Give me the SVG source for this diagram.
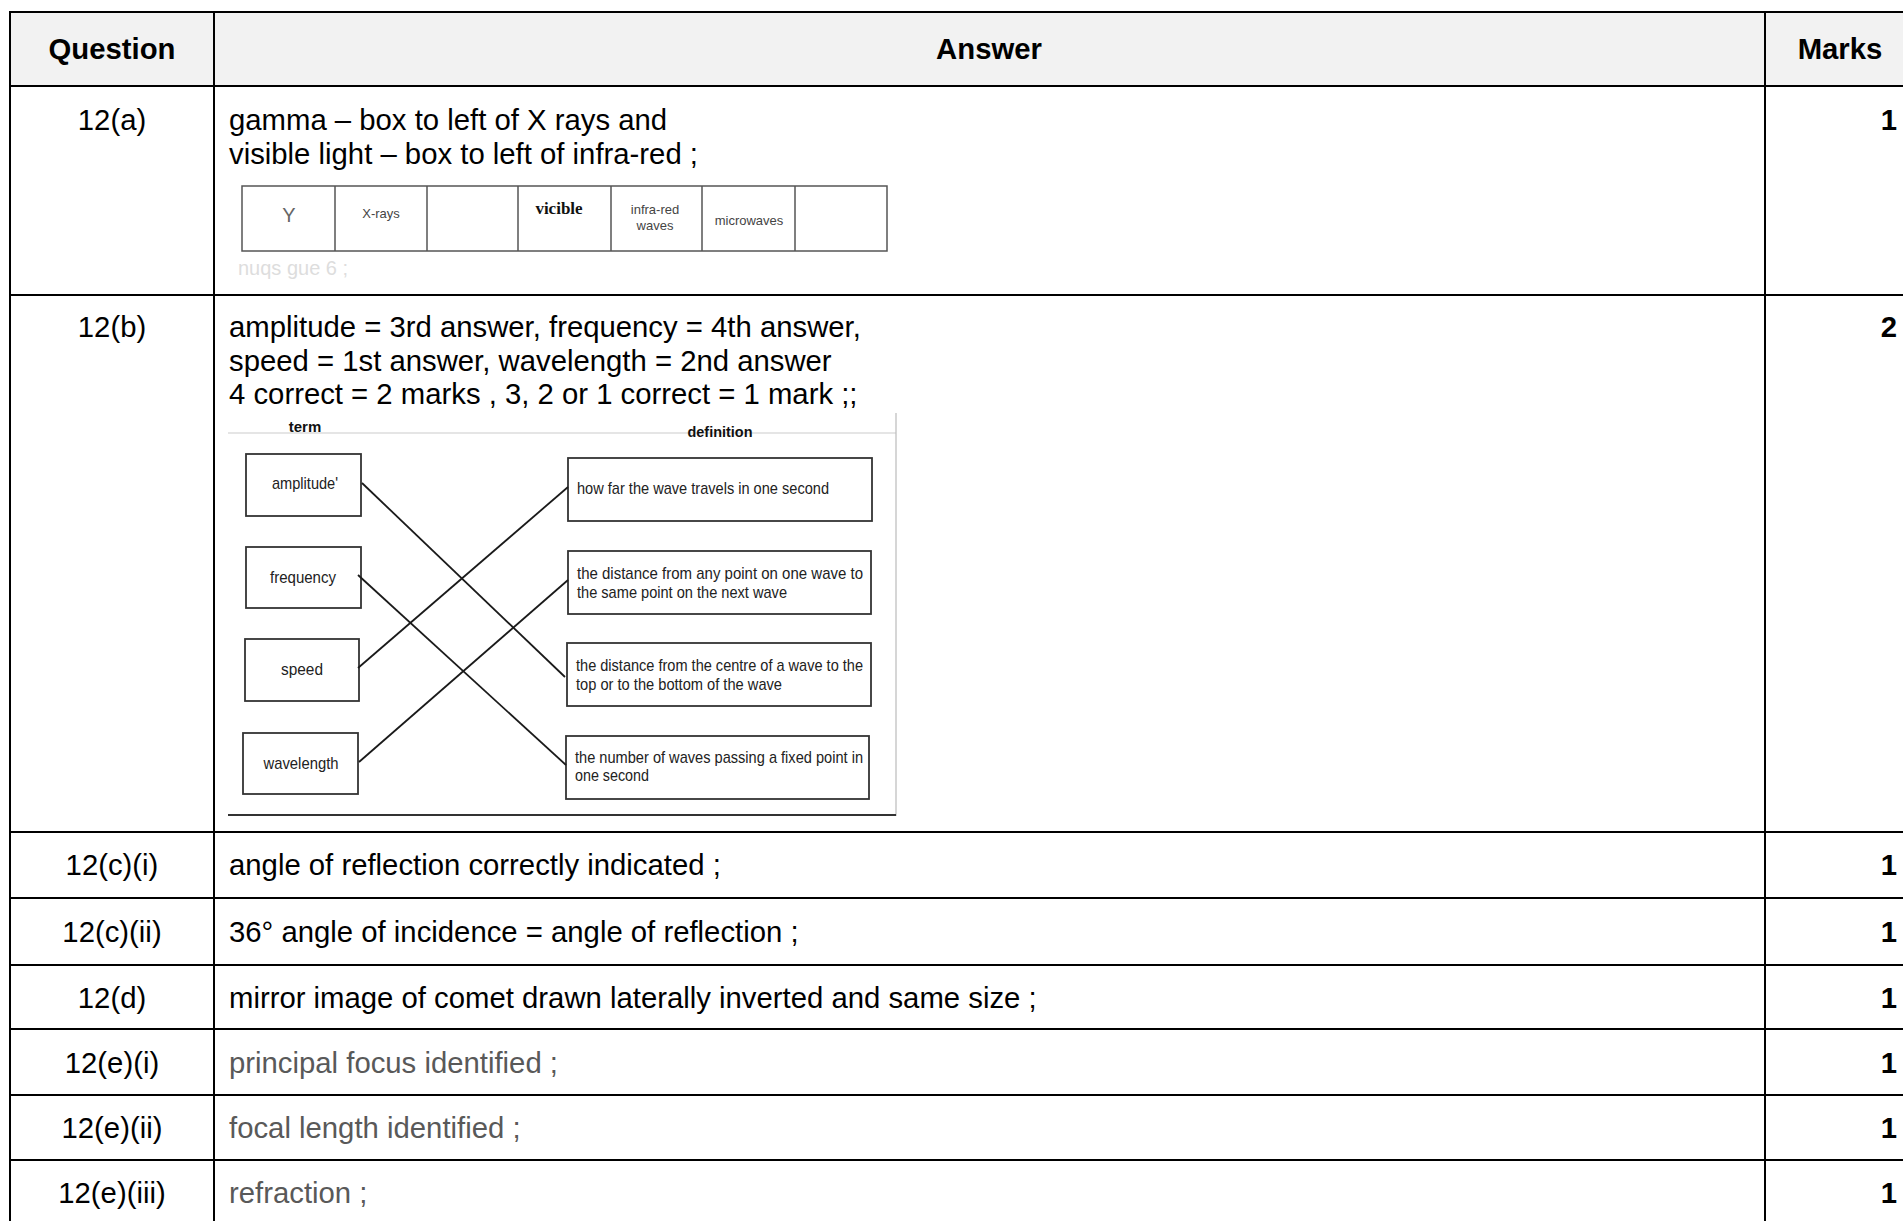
<svg xmlns="http://www.w3.org/2000/svg" width="1903" height="1221" viewBox="0 0 1903 1221">
<style>
.t{font-family:"Liberation Sans",Arial,sans-serif;font-size:29.3px;fill:#000}
.b{font-weight:bold}
.q{text-anchor:middle}
.m{text-anchor:end;font-weight:bold}
.g{fill:#595959}
.grid{stroke:#000;stroke-width:2;fill:none}
.s{font-family:"Liberation Sans",Arial,sans-serif;font-size:17px;fill:#222}
.sb{font-family:"Liberation Sans",Arial,sans-serif;font-size:15px;font-weight:bold;fill:#111}
.em{font-family:"Liberation Sans",Arial,sans-serif;font-size:13px;fill:#444;text-anchor:middle}
.box{fill:#fff;stroke:#333;stroke-width:1.8}
.conn{stroke:#1a1a1a;stroke-width:1.8;fill:none}
</style>
<rect x="0" y="0" width="1903" height="1221" fill="#fff"/>
<g id="table">
<rect x="10" y="12" width="1900" height="74" fill="#f2f2f2"/>
<g class="grid">
<line x1="10" y1="12" x2="1903" y2="12"/>
<line x1="10" y1="86" x2="1903" y2="86"/>
<line x1="10" y1="295" x2="1903" y2="295"/>
<line x1="10" y1="832" x2="1903" y2="832"/>
<line x1="10" y1="898" x2="1903" y2="898"/>
<line x1="10" y1="965" x2="1903" y2="965"/>
<line x1="10" y1="1029" x2="1903" y2="1029"/>
<line x1="10" y1="1095" x2="1903" y2="1095"/>
<line x1="10" y1="1160" x2="1903" y2="1160"/>
<line x1="10" y1="11" x2="10" y2="1221"/>
<line x1="214" y1="11" x2="214" y2="1221"/>
<line x1="1765" y1="11" x2="1765" y2="1221"/>
</g>
</g>
<g id="header">
<text class="t b q" x="112" y="59">Question</text>
<text class="t b q" x="989" y="59">Answer</text>
<text class="t b q" x="1840" y="59">Marks</text>
</g>
<g id="row-12a">
<text class="t q" x="112" y="130">12(a)</text>
<text class="t" x="229" y="130">gamma – box to left of X rays and</text>
<text class="t" x="229" y="164">visible light – box to left of infra-red ;</text>
<text class="t m" x="1897" y="130">1</text>
</g>
<g id="em-spectrum">
<rect x="242" y="186" width="645" height="65" fill="#fff" stroke="#555" stroke-width="1.5"/>
<g stroke="#555" stroke-width="1.5">
<line x1="335" y1="186" x2="335" y2="251"/>
<line x1="427" y1="186" x2="427" y2="251"/>
<line x1="518" y1="186" x2="518" y2="251"/>
<line x1="611" y1="186" x2="611" y2="251"/>
<line x1="702" y1="186" x2="702" y2="251"/>
<line x1="795" y1="186" x2="795" y2="251"/>
</g>
<text class="em" x="289" y="222" style="font-size:20px;fill:#666">Y</text>
<text class="em" x="381" y="218">X-rays</text>
<text x="559" y="214" text-anchor="middle" style="font-family:'Liberation Serif',serif;font-size:17px;font-weight:bold;fill:#111">vicible</text>
<text class="em" x="655" y="214">infra-red</text>
<text class="em" x="655" y="230">waves</text>
<text class="em" x="749" y="225">microwaves</text>
<text x="238" y="275" style="font-family:'Liberation Sans',Arial,sans-serif;font-size:20px;fill:#dddddd">nuqs gue 6 ;</text>
</g>
<g id="row-12b">
<text class="t q" x="112" y="337">12(b)</text>
<text class="t" x="229" y="337">amplitude = 3rd answer, frequency = 4th answer,</text>
<text class="t" x="229" y="371">speed = 1st answer, wavelength = 2nd answer</text>
<text class="t" x="229" y="404">4 correct = 2 marks , 3, 2 or 1 correct = 1 mark ;;</text>
<text class="t m" x="1897" y="337">2</text>
</g>
<g id="matching-frame">
<line x1="228" y1="433" x2="896" y2="433" stroke="#ccc" stroke-width="1.2"/>
<line x1="896" y1="413" x2="896" y2="816" stroke="#bbb" stroke-width="1.2"/>
<line x1="228" y1="815" x2="896" y2="815" stroke="#333" stroke-width="2"/>
<text class="sb" x="305" y="432" text-anchor="middle">term</text>
<text class="sb" x="720" y="437" text-anchor="middle" textLength="65" lengthAdjust="spacingAndGlyphs">definition</text>
</g>
<g id="term-amplitude">
<rect class="box" x="246" y="454" width="115" height="62"/>
<text class="s" x="305" y="489" text-anchor="middle" textLength="66" lengthAdjust="spacingAndGlyphs">amplitude'</text>
</g>
<g id="term-frequency">
<rect class="box" x="246" y="547" width="115" height="61"/>
<text class="s" x="303" y="583" text-anchor="middle" textLength="66" lengthAdjust="spacingAndGlyphs">frequency</text>
</g>
<g id="term-speed">
<rect class="box" x="245" y="639" width="114" height="62"/>
<text class="s" x="302" y="675" text-anchor="middle" textLength="42" lengthAdjust="spacingAndGlyphs">speed</text>
</g>
<g id="term-wavelength">
<rect class="box" x="243" y="733" width="115" height="61"/>
<text class="s" x="301" y="769" text-anchor="middle" textLength="75" lengthAdjust="spacingAndGlyphs">wavelength</text>
</g>
<g id="def-1">
<rect class="box" x="568" y="458" width="304" height="63"/>
<text class="s" x="577" y="494" textLength="252" lengthAdjust="spacingAndGlyphs">how far the wave travels in one second</text>
</g>
<g id="def-2">
<rect class="box" x="568" y="551" width="303" height="63"/>
<text class="s" x="577" y="579" textLength="286" lengthAdjust="spacingAndGlyphs">the distance from any point on one wave to</text>
<text class="s" x="577" y="598" textLength="210" lengthAdjust="spacingAndGlyphs">the same point on the next wave</text>
</g>
<g id="def-3">
<rect class="box" x="567" y="643" width="304" height="63"/>
<text class="s" x="576" y="671" textLength="287" lengthAdjust="spacingAndGlyphs">the distance from the centre of a wave to the</text>
<text class="s" x="576" y="690" textLength="206" lengthAdjust="spacingAndGlyphs">top or to the bottom of the wave</text>
</g>
<g id="def-4">
<rect class="box" x="566" y="736" width="303" height="63"/>
<text class="s" x="575" y="763" textLength="288" lengthAdjust="spacingAndGlyphs">the number of waves passing a fixed point in</text>
<text class="s" x="575" y="781" textLength="74" lengthAdjust="spacingAndGlyphs">one second</text>
</g>
<g id="connectors">
<line class="conn" x1="362" y1="483" x2="565" y2="677"/>
<line class="conn" x1="358" y1="575" x2="566" y2="765"/>
<line class="conn" x1="358" y1="668" x2="568" y2="487"/>
<line class="conn" x1="359" y1="762" x2="568" y2="580"/>
</g>
<g id="row-12ci">
<text class="t q" x="112" y="875">12(c)(i)</text>
<text class="t" x="229" y="875">angle of reflection correctly indicated ;</text>
<text class="t m" x="1897" y="875">1</text>
</g>
<g id="row-12cii">
<text class="t q" x="112" y="942">12(c)(ii)</text>
<text class="t" x="229" y="942">36° angle of incidence = angle of reflection ;</text>
<text class="t m" x="1897" y="942">1</text>
</g>
<g id="row-12d">
<text class="t q" x="112" y="1008">12(d)</text>
<text class="t" x="229" y="1008">mirror image of comet drawn laterally inverted and same size ;</text>
<text class="t m" x="1897" y="1008">1</text>
</g>
<g id="row-12ei">
<text class="t q" x="112" y="1073">12(e)(i)</text>
<text class="t g" x="229" y="1073">principal focus identified ;</text>
<text class="t m" x="1897" y="1073">1</text>
</g>
<g id="row-12eii">
<text class="t q" x="112" y="1138">12(e)(ii)</text>
<text class="t g" x="229" y="1138">focal length identified ;</text>
<text class="t m" x="1897" y="1138">1</text>
</g>
<g id="row-12eiii">
<text class="t q" x="112" y="1203">12(e)(iii)</text>
<text class="t g" x="229" y="1203">refraction ;</text>
<text class="t m" x="1897" y="1203">1</text>
</g>
</svg>
